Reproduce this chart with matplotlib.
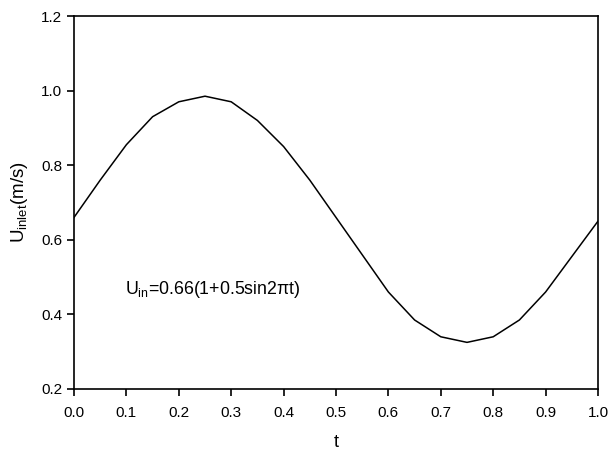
import numpy as np
import matplotlib
matplotlib.use('Agg')
import matplotlib.pyplot as plt

plt.rcParams['font.family'] = ['Liberation Sans', 'DejaVu Sans']
plt.rcParams['mathtext.fontset'] = 'custom'
plt.rcParams['mathtext.rm'] = 'Liberation Sans'

# values
t = [0.0, 0.05, 0.1, 0.15, 0.2, 0.25, 0.3, 0.35, 0.4, 0.45, 0.5,
     0.55, 0.6, 0.65, 0.7, 0.75, 0.8, 0.85, 0.9, 0.95, 1.0]
u_inlet = [0.66, 0.76, 0.855, 0.93, 0.97, 0.985, 0.97, 0.92, 0.85, 0.76, 0.66,
           0.56, 0.46, 0.385, 0.34, 0.325, 0.34, 0.385, 0.46, 0.555, 0.65]
xticks = [0.0, 0.1, 0.2, 0.3, 0.4, 0.5, 0.6, 0.7, 0.8, 0.9, 1.0]
yticks = [0.2, 0.4, 0.6, 0.8, 1.0, 1.2]

fig = plt.figure(figsize=(6.09, 4.5), dpi=100)
ax = fig.add_axes([74 / 609, 1 - 389 / 450, (598 - 74) / 609, (389 - 16) / 450])

ax.plot(t, u_inlet, color='black', lw=1.1)
ax.set_xlim(0, 1)
ax.set_ylim(0.2, 1.2)
ax.set_xticks(xticks)
ax.set_yticks(yticks)
ax.set_xticklabels([f'{v:.1f}' for v in xticks])
ax.set_yticklabels([f'{v:.1f}' for v in yticks])
ax.tick_params(direction='out', length=5, width=1.2, labelsize=11, top=False, right=False)
ax.tick_params(axis='x', pad=7)
for s in ax.spines.values():
    s.set_linewidth(1.2)

ax.set_xlabel('t', fontsize=13, labelpad=10)
ax.set_ylabel(r'U$_{\mathregular{inlet}}$(m/s)', fontsize=13.5, labelpad=8)

ax.text(0.097, 0.455, r'U$_{\mathregular{in}}$=0.66(1+0.5sin2πt)', fontsize=12.8)

fig.savefig('out.png', dpi=100)
